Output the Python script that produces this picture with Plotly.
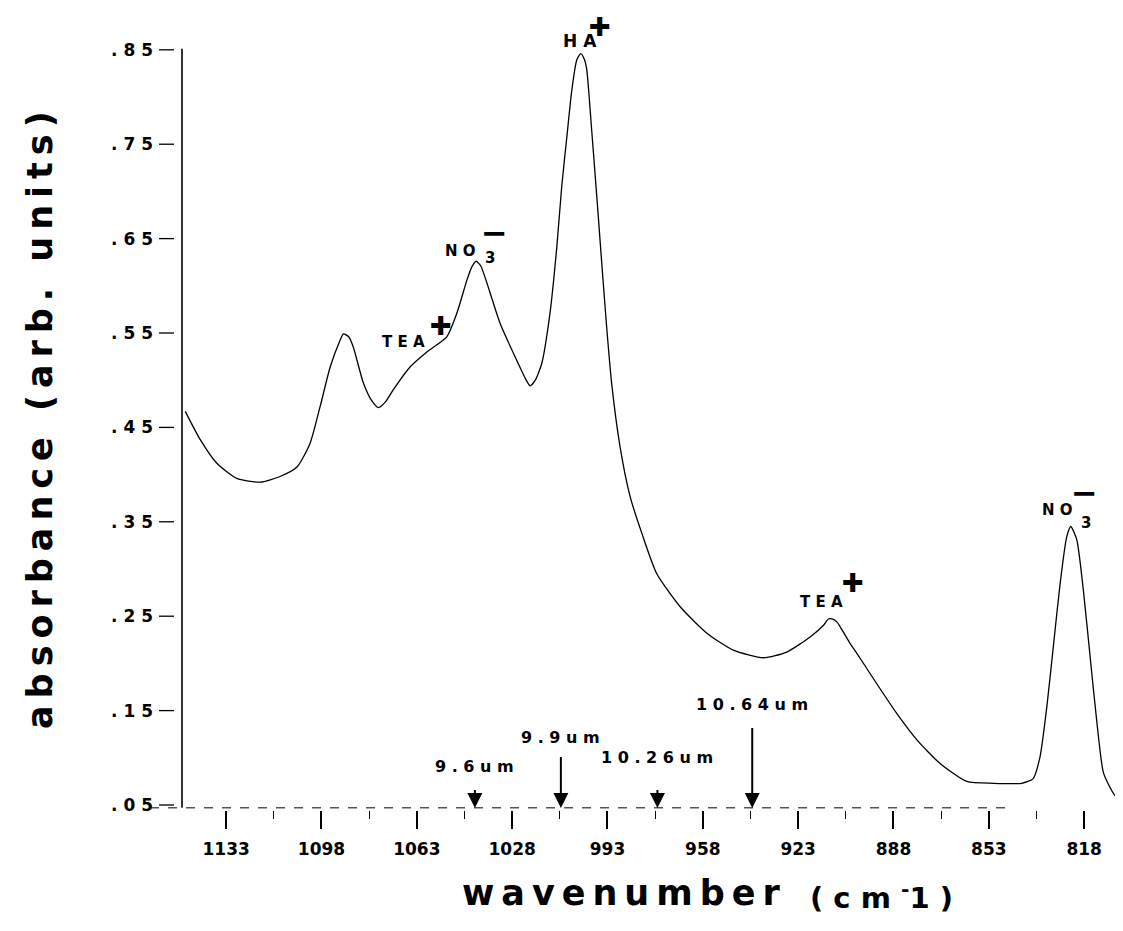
import plotly.graph_objects as go

# ---- data ----
wavenumber = [1148.0, 1142.5, 1136.4, 1129.1, 1120.5, 1113.2, 1107.0, 1102.2, 1098.5, 1094.8,
              1091.5, 1089.9, 1088.0, 1086.3, 1082.6, 1079.5, 1077.1, 1074.5, 1071.6, 1065.5,
              1059.3, 1052.0, 1048.3, 1044.6, 1042.8, 1041.2, 1039.5, 1037.6, 1032.4, 1026.3,
              1022.8, 1021.4, 1019.5, 1017.1, 1014.1, 1011.6, 1009.8, 1007.9, 1006.1, 1004.3,
              1002.8, 1001.5, 1000.6, 998.8, 996.9, 995.1, 993.2, 991.4, 988.4, 984.7,
              980.4, 974.9, 966.3, 956.5, 946.8, 935.7, 927.2, 918.6, 913.5, 911.9,
              910.3, 908.8, 907.6, 903.9, 901.5, 895.4, 886.8, 879.4, 870.9, 861.1,
              851.3, 840.9, 836.7, 834.2, 831.7, 829.3, 826.8, 824.4, 822.9, 820.7,
              818.3, 815.8, 813.3, 810.9, 807.2, 804.1]
absorbance = [0.467, 0.437, 0.412, 0.396, 0.392, 0.398, 0.408, 0.433, 0.472, 0.514,
              0.540, 0.549, 0.546, 0.535, 0.497, 0.478, 0.471, 0.477, 0.490, 0.514,
              0.530, 0.546, 0.571, 0.606, 0.620, 0.626, 0.621, 0.606, 0.560, 0.521,
              0.500, 0.494, 0.500, 0.518, 0.571, 0.641, 0.705, 0.758, 0.807, 0.839,
              0.846, 0.840, 0.829, 0.765, 0.694, 0.624, 0.553, 0.495, 0.430, 0.377,
              0.338, 0.295, 0.260, 0.232, 0.214, 0.206, 0.212, 0.228, 0.241, 0.247,
              0.247, 0.244, 0.239, 0.221, 0.211, 0.184, 0.147, 0.119, 0.094, 0.075,
              0.073, 0.073, 0.078, 0.101, 0.154, 0.218, 0.285, 0.334, 0.345, 0.331,
              0.278, 0.207, 0.137, 0.084, 0.062, 0.052]

x_tick_vals = [1133, 1098, 1063, 1028, 993, 958, 923, 888, 853, 818]
x_tick_text = ["1133", "1098", "1063", "1028", "993", "958", "923", "888", "853", "818"]
x_minor_vals = [1115.5, 1080.5, 1045.5, 1010.5, 975.5, 940.5, 905.5, 870.5, 835.5]
y_tick_vals = [0.05, 0.15, 0.25, 0.35, 0.45, 0.55, 0.65, 0.75, 0.85]
y_tick_text = [". 0 5", ". 1 5", ". 2 5", ". 3 5", ". 4 5", ". 5 5", ". 6 5", ". 7 5", ". 8 5"]

laser_um = [9.6, 9.9, 10.26, 10.64]
laser_text = ["9 . 6 u m", "9 . 9 u m", "1 0 . 2 6 u m", "1 0 . 6 4 u m"]
laser_tail_px = [-28, -61, -28, -90]
laser_label_y = [0.0913, 0.122, 0.0998, 0.156]

# peak labels: (text, x wavenumber, y absorbance, font size, yshift px)
CROSS = "\u271a"
peak_labels = [
    ("T E A", 1067.7, 0.540, 15, 0), (CROSS, 1054.1, 0.557, 26, 0),
    ("N O", 1047.1, 0.637, 15, 0), ("3", 1036.1, 0.629, 15, 0), ("\u2212", 1034.6, 0.656, 32, 0),
    ("H A", 1003.0, 0.859, 17, 0), (CROSS, 995.7, 0.859, 26, 14),
    ("T E A", 914.6, 0.265, 15, 0), (CROSS, 902.8, 0.285, 26, 0),
    ("N O", 827.6, 0.3625, 15, 0), ("3", 817.3, 0.349, 15, 0), ("\u2212", 817.7, 0.380, 32, 0),
]

W, H = 1115, 923
L, R, T, B = 174, 1, 32, 121
X_RANGE = [1149.2, 804.1]
Y_RANGE = [0.0447, 0.8604]
PX0, PY0, PW, PH = 182, 810, 940, 770  # plot area on screen (left, bottom, width, height)

fig = go.Figure()
fig.add_trace(go.Scatter(x=wavenumber, y=absorbance, mode="lines",
                         line=dict(color="black", width=1.3, shape="spline", smoothing=0.6),
                         hoverinfo="skip", showlegend=False))

bold = dict(family="DejaVu Sans", color="black", weight="bold")

shapes = []
shapes.append(dict(type="line", xref="paper", yref="y", x0=0, x1=0, y0=0.047, y1=0.851,
                   line=dict(color="black", width=1.6)))
shapes.append(dict(type="line", xref="paper", yref="y", x0=-0.034, x1=0.88, y0=0.047, y1=0.047,
                   line=dict(color="black", width=1, dash="dash")))
for v in y_tick_vals:
    shapes.append(dict(type="line", xref="paper", yref="y", xsizemode="pixel", xanchor=0,
                       x0=-23, x1=-8, y0=v, y1=v, line=dict(color="black", width=1.3)))

annotations = []
for um, txt, tail, ly in zip(laser_um, laser_text, laser_tail_px, laser_label_y):
    wn = 1e4 / um
    annotations.append(dict(x=wn, y=0.0468, xref="x", yref="y", text=" ", showarrow=True,
                            ax=0, ay=tail, arrowhead=2, arrowsize=1.5, arrowwidth=2,
                            arrowcolor="black"))
    annotations.append(dict(x=wn, y=ly, xref="x", yref="y", text=txt, showarrow=False,
                            font=dict(size=16, **bold)))
for txt, px, py, fs, ys in peak_labels:
    annotations.append(dict(x=px, y=py, xref="x", yref="y", text=txt, showarrow=False,
                            yshift=ys, font=dict(size=fs, **bold)))


def spaced(s, gap="\u2009"):
    return gap.join(list(s))


annotations.append(dict(x=(40 - PX0) / PW, y=(PY0 - 420) / PH, xref="paper", yref="paper",
                        xanchor="center", yanchor="middle",
                        text=spaced("absorbance (arb. units)"), textangle=-90, showarrow=False,
                        font=dict(size=35, **bold)))
annotations.append(dict(x=(621 - PX0) / PW, y=(PY0 - 893) / PH, xref="paper", yref="paper",
                        xanchor="center", yanchor="middle",
                        text=spaced("wavenumber"), showarrow=False, font=dict(size=35, **bold)))
annotations.append(dict(x=(881 - PX0) / PW, y=(PY0 - 896) / PH, xref="paper", yref="paper",
                        xanchor="center", yanchor="middle",
                        text="( c m <sup>-</sup>1 )", showarrow=False,
                        font=dict(size=29, **bold)))

fig.update_layout(
    width=W, height=H, margin=dict(l=L, r=R, t=T, b=B),
    paper_bgcolor="white", plot_bgcolor="white",
    shapes=shapes, annotations=annotations, showlegend=False,
    xaxis=dict(range=X_RANGE, showgrid=False, zeroline=False, showline=False,
               tickvals=x_tick_vals, ticktext=x_tick_text, ticks="outside", ticklen=18,
               tickwidth=1.5, tickcolor="black", tickfont=dict(size=17, **bold),
               ticklabelstandoff=6,
               minor=dict(tickvals=x_minor_vals, ticks="outside", ticklen=8, tickwidth=1.3,
                          tickcolor="black")),
    yaxis=dict(range=Y_RANGE, showgrid=False, zeroline=False, showline=False,
               tickvals=y_tick_vals, ticktext=y_tick_text, ticks="",
               tickfont=dict(size=17, **bold), ticklabelstandoff=28),
)

fig.write_html("out.html")
